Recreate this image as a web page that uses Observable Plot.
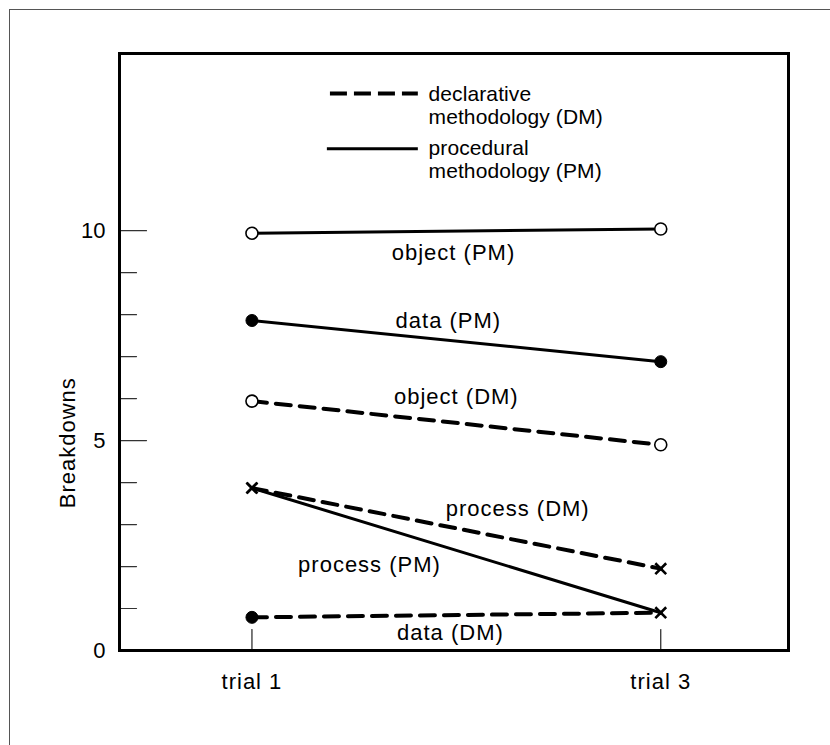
<!DOCTYPE html>
<html>
<head>
<meta charset="utf-8">
<script src="https://cdn.jsdelivr.net/npm/d3@7"></script>
<script src="https://cdn.jsdelivr.net/npm/@observablehq/plot@0.6"></script>
<style>
  html, body { margin: 0; padding: 0; background: #fff; }
  #wrap { position: relative; width: 830px; height: 745px; overflow: hidden; background: #fff; }
  #outer { position: absolute; left: 9px; top: 9px; width: 900px; height: 900px;
           border-top: 1.5px solid #555; border-left: 1.5px solid #555; }
  #chart { position: absolute; left: 0; top: 0; }
</style>
</head>
<body>
<div id="wrap"><div id="outer"></div><div id="chart"></div></div>
<script>
// ---- data ----
const trials = [1, 3];
const trialLabels = ["trial 1", "trial 3"];
const seriesNames = ["object (PM)", "data (PM)", "object (DM)", "process (DM)", "process (PM)", "data (DM)"];
const methods     = ["PM", "PM", "DM", "DM", "PM", "DM"];
const trial1      = [9.94, 7.86, 5.94, 3.87, 3.87, 0.79];
const trial3      = [10.04, 6.88, 4.90, 1.95, 0.90, 0.90];
const marker1     = ["open", "filled", "open", "x", "x", "filled"];
const marker3     = ["open", "filled", "open", "x", "x", "none"];
const yMajorTicks = [5, 10];
const yMinorTicks = [1, 2, 3, 4, 6, 7, 8, 9];
const yTickLabels = [0, 5, 10];
const yTitle = "Breakdowns";

// annotation anchors in data units
const labelX = [1.986, 1.961, 2.0, 2.30, 1.575, 1.971];
const labelY = [9.29, 7.67, 5.88, 3.21, 1.86, 0.26];
const legendLines = ["declarative", "methodology (DM)", "procedural", "methodology (PM)"];
const legendTextY = [13.10, 12.55, 11.81, 11.26];
const legendTextX = 1.864;
const legendKeyY = {DM: 13.27, PM: 11.95};
const legendKeyX = {DM: [1.384, 1.814], PM: [1.369, 1.814]};
const yTitleAt = 4.95;

// ---- build tables ----
const points = [];
seriesNames.forEach((s, i) => {
  points.push({series: s, method: methods[i], trial: trials[0], value: trial1[i], marker: marker1[i]});
  points.push({series: s, method: methods[i], trial: trials[1], value: trial3[i], marker: marker3[i]});
});
const labels = seriesNames.map((s, i) => ({label: s, x: labelX[i], y: labelY[i]}));
const legendText = legendLines.map((t, i) => ({t, y: legendTextY[i]}));
const legendKeys = ["DM", "PM"].map(m => ({m, y: legendKeyY[m], x1: legendKeyX[m][0], x2: legendKeyX[m][1]}));

const lineShape = {draw(context, l) { context.moveTo(0, 0); context.lineTo(0, -l); }};
const font = "'Liberation Sans', Arial, Helvetica, sans-serif";

const chart = Plot.plot({
  width: 830,
  height: 745,
  marginLeft: 119,
  marginRight: 42,
  marginTop: 53,
  marginBottom: 95,
  style: {fontFamily: font, color: "#000", background: "transparent", letterSpacing: "1px"},
  x: {domain: [0.352, 3.625], axis: null},
  y: {domain: [0, 14.22], axis: null},
  marks: [
    // axes
    Plot.axisY({ticks: yTickLabels, tickSize: 0, tickPadding: 14, fontSize: 22, label: null}),
    Plot.axisX({ticks: trials, tickFormat: d => trialLabels[trials.indexOf(d)], tickSize: 0, tickPadding: 23, fontSize: 22, label: null}),
    Plot.vector(yMinorTicks, {y: d => d, frameAnchor: "left", rotate: 90, anchor: "start", length: 17, shape: lineShape, stroke: "#333", strokeWidth: 1.2}),
    Plot.vector(yMajorTicks, {y: d => d, frameAnchor: "left", rotate: 90, anchor: "start", length: 27, shape: lineShape, stroke: "#333", strokeWidth: 1.2}),
    Plot.vector(trials, {x: d => d, frameAnchor: "bottom", rotate: 0, anchor: "start", length: 21, shape: lineShape, stroke: "#222", strokeWidth: 1.2}),
    Plot.text([yTitle], {frameAnchor: "left", y: yTitleAt, dx: -52, rotate: -90, fontSize: 22, textAnchor: "middle", lineAnchor: "middle"}),
    // lines
    Plot.line(points.filter(d => d.method === "PM"), {x: "trial", y: "value", z: "series", stroke: "#000", strokeWidth: 3}),
    Plot.line(points.filter(d => d.method === "DM"), {x: "trial", y: "value", z: "series", stroke: "#000", strokeWidth: 4, strokeDasharray: "15,9"}),
    // markers
    Plot.dot(points.filter(d => d.marker === "open"), {x: "trial", y: "value", r: 6, fill: "#fff", stroke: "#000", strokeWidth: 1.6}),
    Plot.dot(points.filter(d => d.marker === "filled"), {x: "trial", y: "value", r: 6, fill: "#000", stroke: "#000", strokeWidth: 1}),
    Plot.dot(points.filter(d => d.marker === "x"), {x: "trial", y: "value", r: 5, symbol: "times", stroke: "#000", strokeWidth: 2.6}),
    // series labels
    Plot.text(labels, {x: "x", y: "y", text: "label", fontSize: 22, textAnchor: "middle", lineAnchor: "bottom", fill: "#000"}),
    // legend
    Plot.ruleY(legendKeys.filter(d => d.m === "DM"), {y: "y", x1: "x1", x2: "x2", stroke: "#000", strokeWidth: 4, strokeDasharray: "17,7"}),
    Plot.ruleY(legendKeys.filter(d => d.m === "PM"), {y: "y", x1: "x1", x2: "x2", stroke: "#000", strokeWidth: 3}),
    Plot.text(legendText, {x: legendTextX, y: "y", text: "t", fontSize: 21, textAnchor: "start", lineAnchor: "bottom", fill: "#000"}),
    // frame
    Plot.frame({stroke: "#000", strokeWidth: 3})
  ]
});

d3.select(chart).selectAll("text")
  .filter(function() { return legendLines.includes(this.textContent); })
  .style("letter-spacing", "0.1px");
d3.select(chart).selectAll("text")
  .filter(function() { return ["0", "5", "10"].includes(this.textContent); })
  .style("letter-spacing", "0px");

document.getElementById("chart").appendChild(chart);
</script>
</body>
</html>
